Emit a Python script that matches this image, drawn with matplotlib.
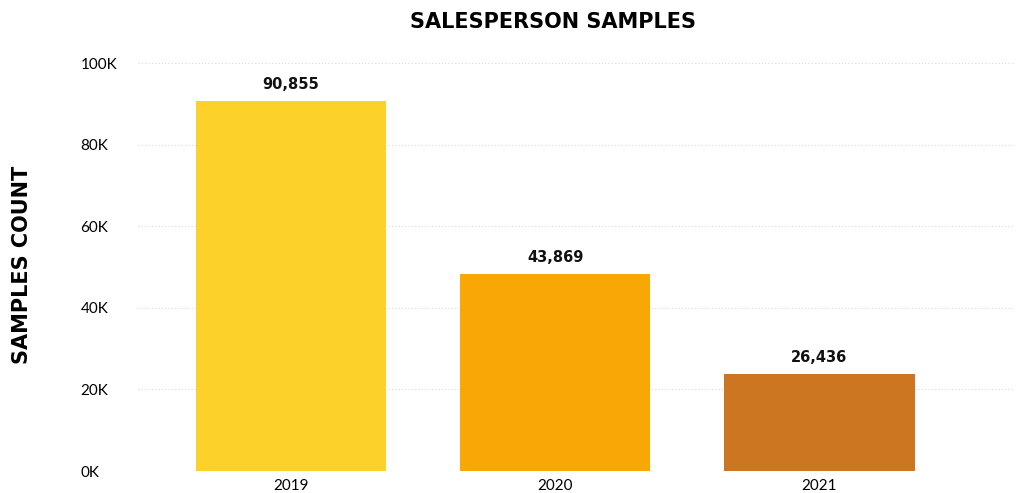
import numpy as np
import matplotlib
matplotlib.use('Agg')
import matplotlib.pyplot as plt

years = ['2019', '2020', '2021']
# bar heights as drawn in the picture; labels as printed above them
heights = [90700, 48300, 23800]
value_labels = ['90,855', '43,869', '26,436']
colors = ['#FCD12A', '#F8A704', '#CD7621']
yticks = [0, 20000, 40000, 60000, 80000, 100000]
ytick_labels = ['0K', '20K', '40K', '60K', '80K', '100K']

plt.rcParams['font.family'] = ['Lato', 'DejaVu Sans']

fig = plt.figure(figsize=(10.19, 4.93), dpi=100)
ax = fig.add_axes([0.135, 0.0446, 0.861, 0.8276])

x = np.arange(len(years))
ax.bar(x, heights, width=0.72, color=colors, zorder=2)
for xi, h, lab in zip(x, heights, value_labels):
    ax.text(xi, h + 2200, lab, ha='center', va='bottom', family='DejaVu Sans',
            fontsize=10.5, fontweight='bold', color='#111111')

ax.set_xlim(-0.58, 2.74)
ax.set_ylim(0, 100000)
ax.set_xticks(x)
ax.set_xticklabels(years, fontsize=11)
ax.set_yticks(yticks)
ax.set_yticklabels(ytick_labels, fontsize=11)
ax.tick_params(length=0, pad=6)
ax.tick_params(axis='y', pad=41)
for lbl in ax.get_yticklabels():
    lbl.set_horizontalalignment('left')
ax.grid(axis='y', color='#d8d8d8', linestyle=(0, (1, 2)), linewidth=0.8, zorder=0)
for s in ax.spines.values():
    s.set_visible(False)

fig.text(0.543, 0.955, 'SALESPERSON SAMPLES', ha='center', va='center',
         family='DejaVu Sans', fontsize=15, fontweight='bold', color='#000000')
fig.text(0.022, 0.4625, 'SAMPLES COUNT', ha='center', va='center', rotation=90,
         family='DejaVu Sans', fontsize=15, fontweight='bold', color='#000000')

fig.savefig('out.png', dpi=100)
